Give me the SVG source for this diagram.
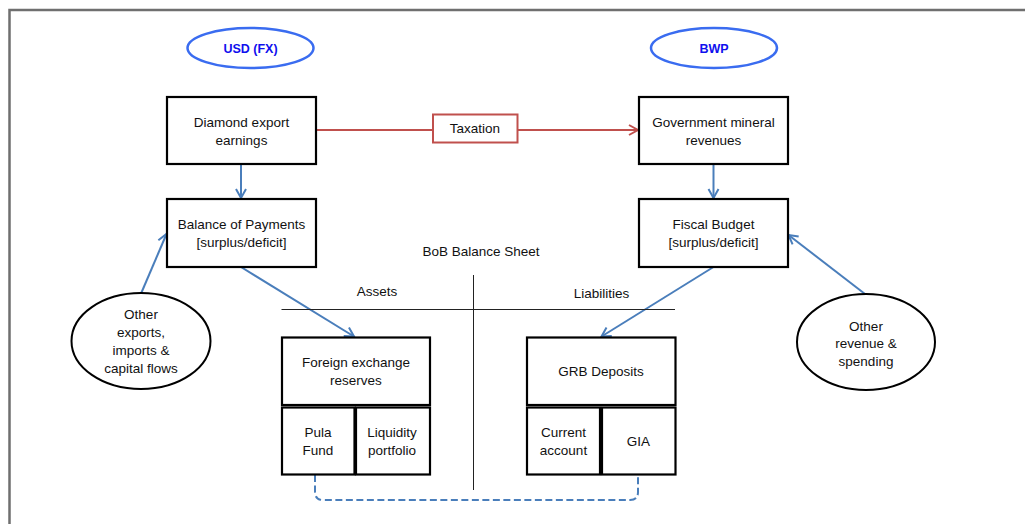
<svg xmlns="http://www.w3.org/2000/svg" width="1025" height="524" viewBox="0 0 1025 524">
<style>
text{font-family:"Liberation Sans",Arial,sans-serif;font-size:13.5px;fill:#111;text-anchor:middle}
.cur{font-weight:bold;font-size:12.5px;fill:#1010ee}
.box{fill:#fff;stroke:#000;stroke-width:2.2}
.ell{fill:#fff;stroke:#000;stroke-width:2}
.cell{fill:none;stroke:#3a6cf0;stroke-width:2.5}
.blue{stroke:#4a7ebb;stroke-width:2;fill:none}
.red{stroke:#c0504d;stroke-width:2;fill:none}
.thin{stroke:#222;stroke-width:1;fill:none}
</style>
<defs>
<marker id="ab" markerUnits="userSpaceOnUse" markerWidth="14" markerHeight="14" refX="10" refY="6" orient="auto" viewBox="0 0 14 12">
<path d="M1,1 L10,6 L1,11" fill="none" stroke="#4a7ebb" stroke-width="2"/>
</marker>
<marker id="ar" markerUnits="userSpaceOnUse" markerWidth="14" markerHeight="14" refX="10" refY="6" orient="auto" viewBox="0 0 14 12">
<path d="M1,1 L10,6 L1,11" fill="none" stroke="#c0504d" stroke-width="2"/>
</marker>
</defs>
<rect width="1025" height="524" fill="#fff"/>
<path d="M9.5,524 V10 H1025" fill="none" stroke="#6f6f6f" stroke-width="2.5"/>

<g id="connectors">
<path class="red" d="M316,130 H433"/>
<path class="red" d="M518,130 H638" marker-end="url(#ar)"/>
<path class="blue" d="M241,164 V198" marker-end="url(#ab)"/>
<path class="blue" d="M713.5,164 V198" marker-end="url(#ab)"/>
<path class="blue" d="M141.5,292.5 L166.5,234" marker-end="url(#ab)"/>
<path class="blue" d="M865,294 L788.5,235" marker-end="url(#ab)"/>
<path class="blue" d="M241,267 L354,336.5" marker-end="url(#ab)"/>
<path class="blue" d="M713.5,267 L601.5,336.5" marker-end="url(#ab)"/>
<path class="blue" d="M315,475 V492 Q315,500 323,500 H630 Q638,500 638,492 V475" stroke-dasharray="7,3.5"/>
</g>

<g id="usd"><ellipse class="cell" cx="250.5" cy="48" rx="63" ry="20"/><text class="cur" x="250.5" y="52.5">USD (FX)</text></g>
<g id="bwp"><ellipse class="cell" cx="714" cy="48" rx="63" ry="20"/><text class="cur" x="714" y="52.5">BWP</text></g>

<g id="diamond"><rect class="box" x="167" y="97" width="149" height="67"/><text x="241.5" y="127">Diamond export</text><text x="241.5" y="145">earnings</text></g>
<g id="taxation"><rect x="433" y="114.5" width="84.5" height="28" fill="#fff" stroke="#c0504d" stroke-width="2"/><text x="475" y="133">Taxation</text></g>
<g id="govrev"><rect class="box" x="639" y="97" width="149" height="67"/><text x="713.5" y="127">Government mineral</text><text x="713.5" y="145">revenues</text></g>
<g id="bop"><rect class="box" x="167" y="199" width="149" height="68"/><text x="241.5" y="229">Balance of Payments</text><text x="241.5" y="247">[surplus/deficit]</text></g>
<g id="fiscal"><rect class="box" x="639" y="199" width="149" height="68"/><text x="713.5" y="229">Fiscal Budget</text><text x="713.5" y="247">[surplus/deficit]</text></g>

<g id="balancesheet">
<text x="481" y="256">BoB Balance Sheet</text>
<path class="thin" d="M473.5,275 V490 M281.5,309.5 H675"/>
<text x="377" y="296">Assets</text>
<text x="601.5" y="298">Liabilities</text>
</g>

<g id="otherexp"><ellipse class="ell" cx="141" cy="341" rx="69.5" ry="48"/><text x="141" y="319">Other</text><text x="141" y="337">exports,</text><text x="141" y="355">imports &amp;</text><text x="141" y="373">capital flows</text></g>
<g id="otherrev"><ellipse class="ell" cx="866" cy="342" rx="69" ry="48"/><text x="866" y="330.5">Other</text><text x="866" y="348">revenue &amp;</text><text x="866" y="366">spending</text></g>

<g id="fxres"><rect class="box" x="282" y="337.5" width="148" height="67.5"/><text x="356" y="367">Foreign exchange</text><text x="356" y="385">reserves</text></g>
<g id="pula"><rect class="box" x="282" y="407.5" width="72.5" height="67"/><text x="318" y="437">Pula</text><text x="318" y="455">Fund</text></g>
<g id="liquidity"><rect class="box" x="356" y="407.5" width="74" height="67"/><text x="392" y="437">Liquidity</text><text x="392" y="455">portfolio</text></g>
<g id="grb"><rect class="box" x="527" y="337.5" width="148.5" height="67.5"/><text x="601" y="376">GRB Deposits</text></g>
<g id="current"><rect class="box" x="527" y="407.5" width="73" height="67"/><text x="563.5" y="437">Current</text><text x="563.5" y="455">account</text></g>
<g id="gia"><rect class="box" x="602" y="407.5" width="73.5" height="67"/><text x="638.5" y="446">GIA</text></g>
</svg>
